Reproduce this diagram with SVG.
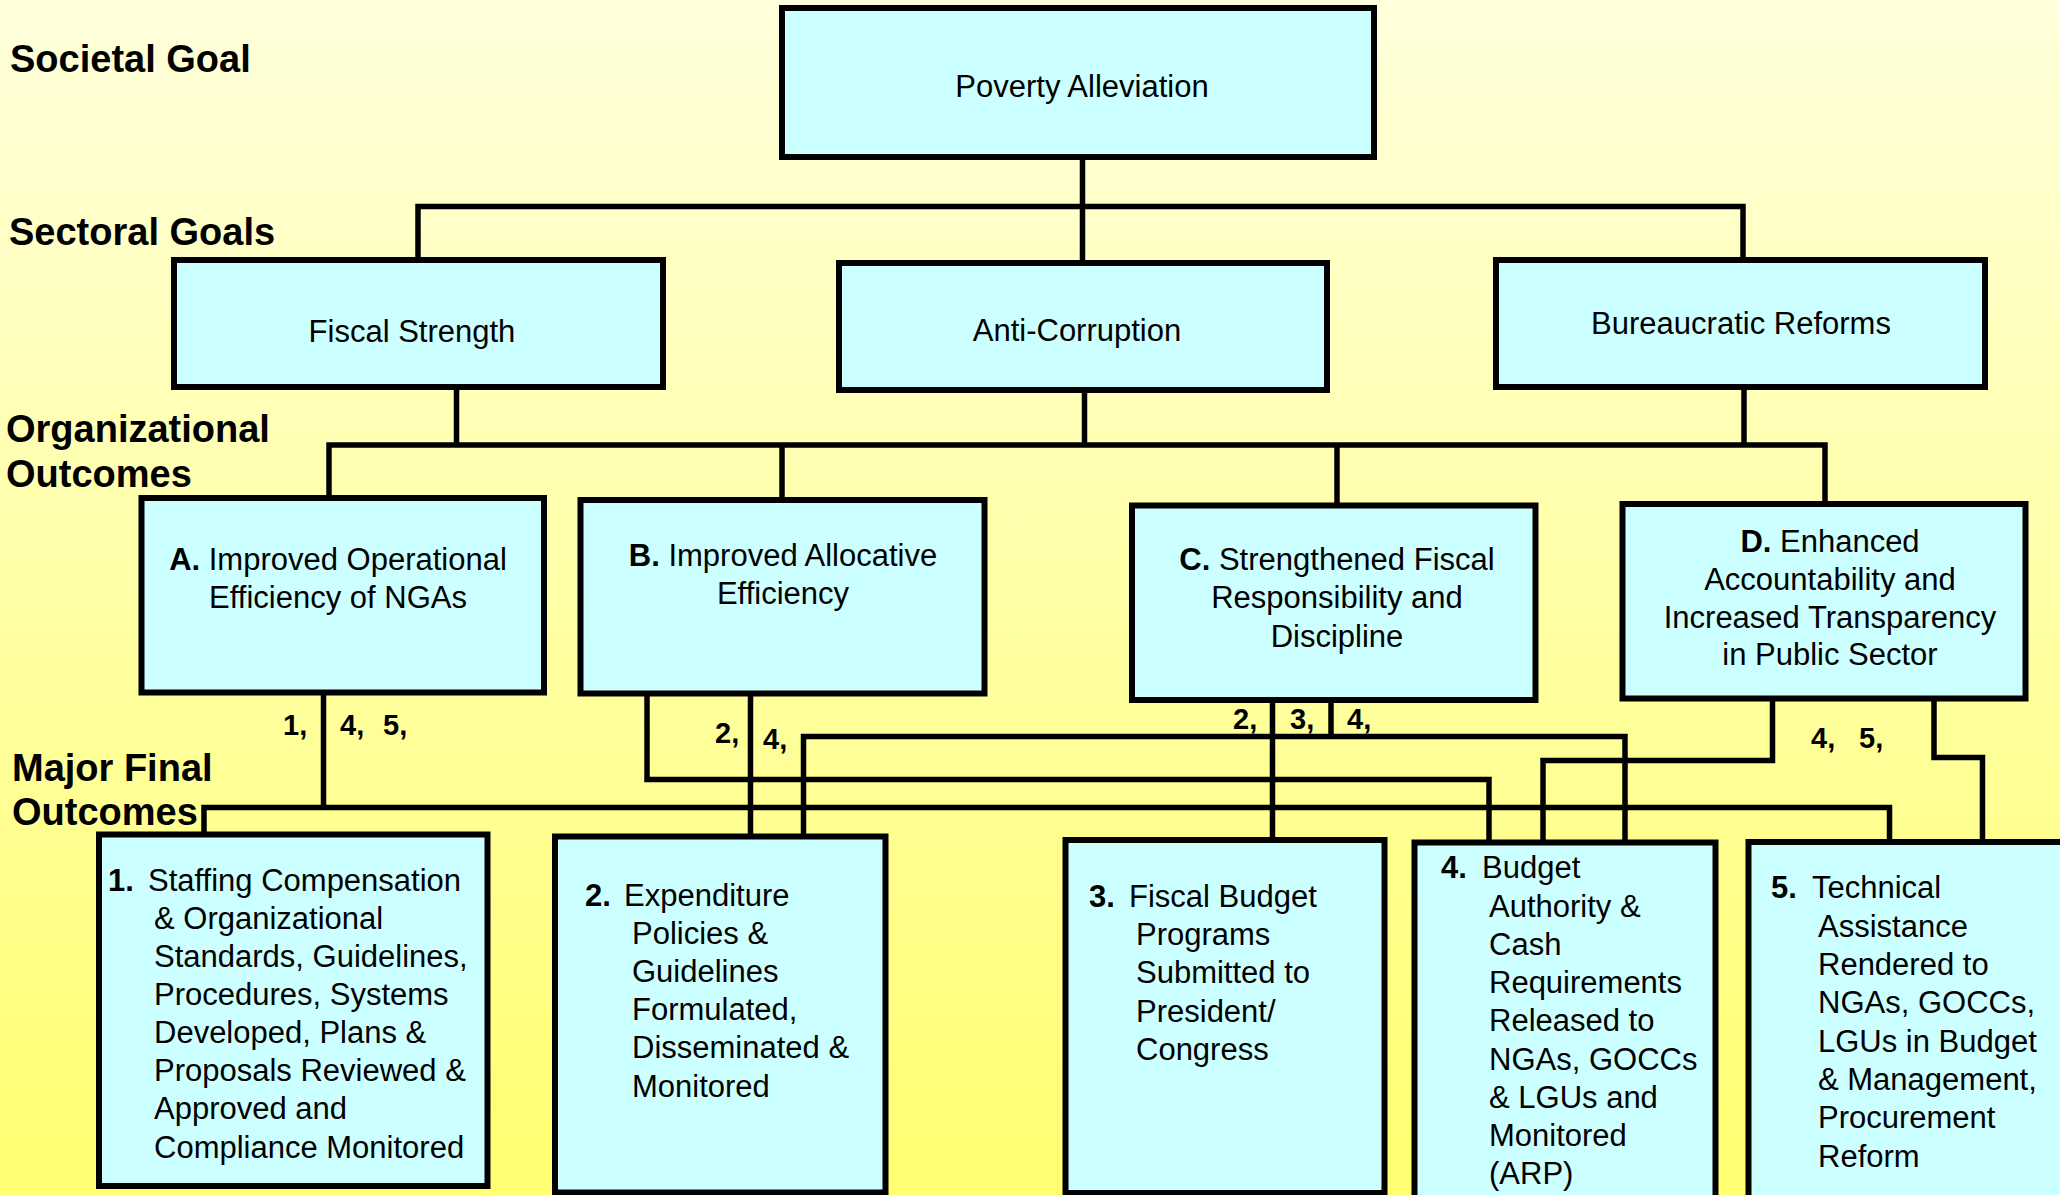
<svg xmlns="http://www.w3.org/2000/svg" width="2060" height="1195" viewBox="0 0 2060 1195">
<defs>
<linearGradient id="bg" x1="0" y1="0" x2="0" y2="1">
<stop offset="0" stop-color="#FFFFDC"/>
<stop offset="0.5" stop-color="#FFFFA6"/>
<stop offset="1" stop-color="#FFFF70"/>
</linearGradient>
<style>
.box{fill:#CCFFFF;stroke:#000;stroke-width:6}
.ln{fill:none;stroke:#000;stroke-width:5.5;stroke-linecap:square}
.t{font-family:"Liberation Sans",Arial,sans-serif;font-size:31px;fill:#000}
.b{font-weight:bold}
.lbl{font-family:"Liberation Sans",Arial,sans-serif;font-size:38px;font-weight:bold;fill:#000}
.num{font-family:"Liberation Sans",Arial,sans-serif;font-size:29px;font-weight:bold;fill:#000}
</style>
</defs>
<rect x="0" y="0" width="2060" height="1195" fill="url(#bg)"/>

<g id="level-labels">
<text class="lbl" x="10" y="72">Societal Goal</text>
<text class="lbl" x="9" y="245">Sectoral Goals</text>
<text class="lbl" x="6" y="442">Organizational</text>
<text class="lbl" x="6" y="487">Outcomes</text>
<text class="lbl" x="12" y="781">Major Final</text>
<text class="lbl" x="12" y="825">Outcomes</text>
</g>

<g id="connectors">
<path class="ln" d="M1082.5 157 V206.5 M418 206.5 H1743 M418 206.5 V260 M1082.5 206.5 V261 M1743 206.5 V260"/>
<path class="ln" d="M456.5 387 V445 M1084.5 390 V445 M1744 387 V445 M329 445 H1825 M329 445 V496 M782 445 V498 M1337 445 V503 M1825 445 V502"/>
<path class="ln" d="M323.5 692 V807.5 M204 807.5 H1889.5 M204 807.5 V834 M1889.5 807.5 V842"/>
<path class="ln" d="M647 690 V779.5 H1489 V842 M750.5 690 V838"/>
<path class="ln" d="M1272.5 697 V845 M1331 700 V736.5 M803.5 736.5 H1625 M803.5 736.5 V836 M1625 736.5 V842"/>
<path class="ln" d="M1772.5 698 V760.5 H1543 V842 M1934 698 V757.5 H1982.5 V842"/>
</g>

<g id="connector-labels">
<text class="num" x="283" y="735">1,</text>
<text class="num" x="340" y="735">4,</text>
<text class="num" x="383" y="735">5,</text>
<text class="num" x="715" y="743">2,</text>
<text class="num" x="763" y="749">4,</text>
<text class="num" x="1233" y="729">2,</text>
<text class="num" x="1290" y="729">3,</text>
<text class="num" x="1347" y="729">4,</text>
<text class="num" x="1811" y="748">4,</text>
<text class="num" x="1859" y="748">5,</text>
</g>

<g id="poverty">
<rect class="box" x="782" y="8" width="592" height="149"/>
<text class="t" x="1082" y="97" text-anchor="middle">Poverty Alleviation</text>
</g>

<g id="fiscal-strength">
<rect class="box" x="174" y="260" width="489" height="127"/>
<text class="t" x="412" y="342" text-anchor="middle">Fiscal Strength</text>
</g>

<g id="anti-corruption">
<rect class="box" x="839" y="263" width="488" height="127"/>
<text class="t" x="1077" y="341" text-anchor="middle">Anti-Corruption</text>
</g>

<g id="bureaucratic-reforms">
<rect class="box" x="1496" y="260" width="489" height="127"/>
<text class="t" x="1741" y="334" text-anchor="middle">Bureaucratic Reforms</text>
</g>

<g id="outcome-a">
<rect class="box" x="141.5" y="498" width="402.5" height="194.5"/>
<text class="t" text-anchor="middle"><tspan x="338" y="570"><tspan class="b">A.</tspan> Improved Operational</tspan><tspan x="338" y="608">Efficiency of NGAs</tspan></text>
</g>

<g id="outcome-b">
<rect class="box" x="580.5" y="500" width="404" height="193.5"/>
<text class="t" text-anchor="middle"><tspan x="783" y="566"><tspan class="b">B.</tspan> Improved Allocative</tspan><tspan x="783" y="604">Efficiency</tspan></text>
</g>

<g id="outcome-c">
<rect class="box" x="1132" y="505.5" width="403.5" height="194.5"/>
<text class="t" text-anchor="middle"><tspan x="1337" y="570"><tspan class="b">C.</tspan> Strengthened Fiscal</tspan><tspan x="1337" y="608">Responsibility and</tspan><tspan x="1337" y="647">Discipline</tspan></text>
</g>

<g id="outcome-d">
<rect class="box" x="1622.5" y="504" width="403" height="194.5"/>
<text class="t" text-anchor="middle"><tspan x="1830" y="552"><tspan class="b">D.</tspan> Enhanced</tspan><tspan x="1830" y="590">Accountability and</tspan><tspan x="1830" y="628">Increased Transparency</tspan><tspan x="1830" y="665">in Public Sector</tspan></text>
</g>

<g id="mfo-1">
<rect class="box" x="99" y="834.5" width="388.5" height="351.5"/>
<text class="t"><tspan class="b" x="108" y="891">1.</tspan><tspan x="148" y="891">Staffing Compensation</tspan><tspan x="154" y="929">&amp; Organizational</tspan><tspan x="154" y="967">Standards, Guidelines,</tspan><tspan x="154" y="1005">Procedures, Systems</tspan><tspan x="154" y="1043">Developed, Plans &amp;</tspan><tspan x="154" y="1081">Proposals Reviewed &amp;</tspan><tspan x="154" y="1119">Approved and</tspan><tspan x="154" y="1158">Compliance Monitored</tspan></text>
</g>

<g id="mfo-2">
<rect class="box" x="555" y="836.5" width="330.5" height="356"/>
<text class="t"><tspan class="b" x="585" y="906">2.</tspan><tspan x="624" y="906">Expenditure</tspan><tspan x="632" y="944">Policies &amp;</tspan><tspan x="632" y="982">Guidelines</tspan><tspan x="632" y="1020">Formulated,</tspan><tspan x="632" y="1058">Disseminated &amp;</tspan><tspan x="632" y="1097">Monitored</tspan></text>
</g>

<g id="mfo-3">
<rect class="box" x="1065.5" y="840" width="319" height="353"/>
<text class="t"><tspan class="b" x="1089" y="907">3.</tspan><tspan x="1129" y="907">Fiscal Budget</tspan><tspan x="1136" y="945">Programs</tspan><tspan x="1136" y="983">Submitted to</tspan><tspan x="1136" y="1022">President/</tspan><tspan x="1136" y="1060">Congress</tspan></text>
</g>

<g id="mfo-4">
<rect class="box" x="1414.5" y="842.5" width="301" height="370"/>
<text class="t"><tspan class="b" x="1441" y="878">4.</tspan><tspan x="1482" y="878">Budget</tspan><tspan x="1489" y="917">Authority &amp;</tspan><tspan x="1489" y="955">Cash</tspan><tspan x="1489" y="993">Requirements</tspan><tspan x="1489" y="1031">Released to</tspan><tspan x="1489" y="1070">NGAs, GOCCs</tspan><tspan x="1489" y="1108">&amp; LGUs and</tspan><tspan x="1489" y="1146">Monitored</tspan><tspan x="1489" y="1184">(ARP)</tspan></text>
</g>

<g id="mfo-5">
<rect class="box" x="1748.5" y="842" width="330" height="370"/>
<text class="t"><tspan class="b" x="1771" y="898">5.</tspan><tspan x="1812" y="898">Technical</tspan><tspan x="1818" y="937">Assistance</tspan><tspan x="1818" y="975">Rendered to</tspan><tspan x="1818" y="1013">NGAs, GOCCs,</tspan><tspan x="1818" y="1052">LGUs in Budget</tspan><tspan x="1818" y="1090">&amp; Management,</tspan><tspan x="1818" y="1128">Procurement</tspan><tspan x="1818" y="1167">Reform</tspan></text>
</g>
</svg>
